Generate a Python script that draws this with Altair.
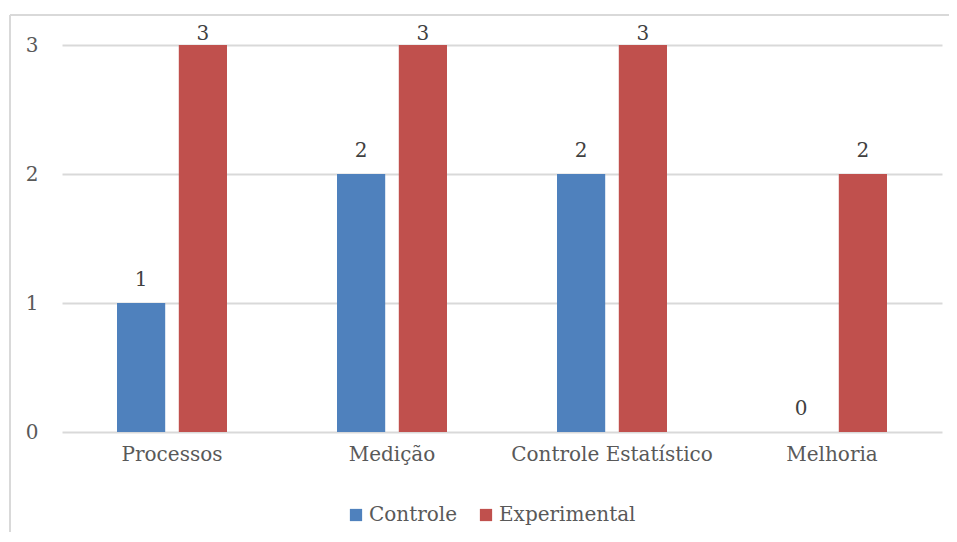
import altair as alt
import pandas as pd

categories = ["Processos", "Medição", "Controle Estatístico", "Melhoria"]
series = ["Controle", "Experimental"]
controle = [1, 2, 2, 0]
experimental = [3, 3, 3, 2]
colors = ["#4F81BD", "#C0504D"]

rows = []
for c, a, b in zip(categories, controle, experimental):
    rows.append({"cat": c, "serie": series[0], "valor": a})
    rows.append({"cat": c, "serie": series[1], "valor": b})
df = pd.DataFrame(rows)

FONT = "DejaVu Serif"
FS = 20

x = alt.X("cat:N", sort=categories, title=None,
          scale=alt.Scale(paddingInner=0.5, paddingOuter=0.25),
          axis=alt.Axis(labelAngle=0, labelFont=FONT, labelFontSize=FS, labelColor="#595959",
                        labelPadding=12, labelLimit=0, ticks=False, domain=False, grid=False))
xoff = alt.XOffset("serie:N", sort=series, scale=alt.Scale(paddingInner=0.22, paddingOuter=0))
y = alt.Y("valor:Q", title=None, scale=alt.Scale(domain=[0, 3], nice=False),
          axis=alt.Axis(values=[0, 1, 2, 3], format="d", labelFont=FONT, labelFontSize=FS,
                        labelColor="#595959", labelPadding=24, ticks=False, domain=False,
                        gridColor="#D9D9D9", gridWidth=2))
color = alt.Color("serie:N", sort=series, scale=alt.Scale(domain=series, range=colors),
                  legend=alt.Legend(title=None, orient="none", direction="horizontal",
                                    legendX=284, legendY=460, symbolType="square",
                                    symbolSize=150, symbolStrokeWidth=0, labelFont=FONT,
                                    labelFontSize=FS, labelColor="#595959", columnPadding=18,
                                    labelOffset=3, labelLimit=0))

base = alt.Chart(df)
bars = base.mark_bar().encode(x=x, xOffset=xoff, y=y, color=color)
labels_low = base.transform_filter("datum.valor < 3").mark_text(
    baseline="bottom", dy=-13, font=FONT, fontSize=FS, color="#404040").encode(
    x=x, xOffset=xoff, y=y, text=alt.Text("valor:Q", format="d"))
labels_top = base.transform_filter("datum.valor >= 3").mark_text(
    baseline="bottom", dy=-1, font=FONT, fontSize=FS, color="#404040").encode(
    x=x, xOffset=xoff, y=y, text=alt.Text("valor:Q", format="d"))

frame_top = base.mark_rule(color="#D9D9D9", strokeWidth=2).encode(
    x=alt.value(-52), x2=alt.value(900), y=alt.value(-30))
frame_left = base.mark_rule(color="#D9D9D9", strokeWidth=2).encode(
    x=alt.value(-52), y=alt.value(-30), y2=alt.value(520))

chart = alt.layer(frame_top, frame_left, bars, labels_low, labels_top).properties(
    width=880, height=387,
    autosize=alt.AutoSizeParams(type="none"),
    padding={"left": 54, "top": 37, "right": 7, "bottom": 100},
).configure_view(stroke=None)

chart.save("out.html", embed_options={"renderer": "svg", "actions": False})
